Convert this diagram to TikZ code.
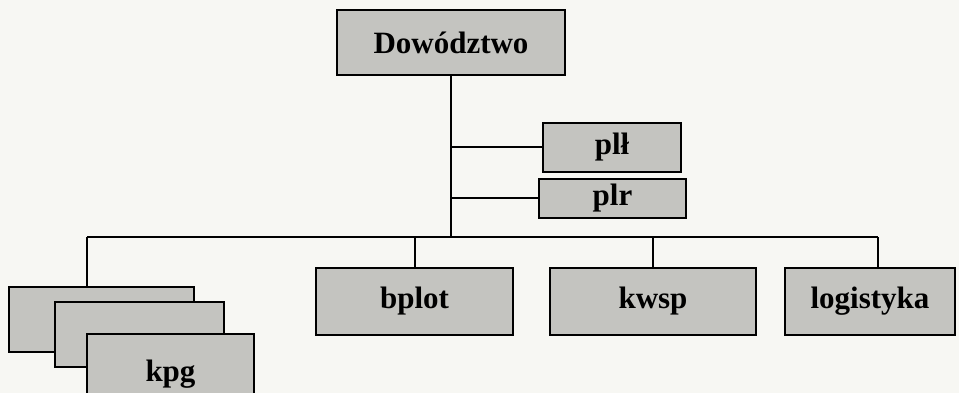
\documentclass[tikz,border=0pt]{standalone}
\usepackage{fontspec}
\setmainfont{Liberation Serif}
\definecolor{boxgray}{RGB}{196,196,192}
\definecolor{paper}{RGB}{247,247,243}

\begin{document}
\begin{tikzpicture}[x=1pt,y=-1pt,line width=2pt,
	unit/.style={draw,fill=boxgray,inner sep=0pt,font=\fontsize{31}{34}\selectfont\bfseries}]
	\clip (0,0) rectangle (959,393);
	\fill[paper] (0,0) rectangle (959,393);
	\node[unit,minimum width=228pt,minimum height=65pt] (dow) at (451,42.5) {Dowództwo};
	\node[unit,minimum width=138pt,minimum height=49pt] (pll) at (612,147.5) {pl\l};
	\node[unit,minimum width=147pt,minimum height=39pt] (plr) at (612.5,198.5) {plr};
	\coordinate (bl) at (87,237);
	\coordinate (br) at (878,237);
	\node[unit,minimum width=185pt,minimum height=65pt] (kpga) at (101.5,319.5) {};
	\node[unit,minimum width=169pt,minimum height=65pt] (kpgb) at (139.5,334.5) {};
	\node[unit,minimum width=167pt,minimum height=80pt] (kpgc) at (170.5,374) {kpg};
	\node[unit,minimum width=197pt,minimum height=67pt] (bplot) at (414.5,301.5) {bplot};
	\node[unit,minimum width=206pt,minimum height=67pt] (kwsp) at (653,301.5) {kwsp};
	\node[unit,minimum width=170pt,minimum height=67pt] (logi) at (870,301.5) {logistyka};
	\draw (dow.south) -- (dow.south |- bl);
	\draw (dow.south |- pll.west) -- (pll.west);
	\draw (dow.south |- plr.west) -- (plr.west);
	\draw (bl) -- (br);
	\draw (bl) -- (bl |- kpga.north);
	\draw (bplot.north |- bl) -- (bplot.north);
	\draw (kwsp.north |- bl) -- (kwsp.north);
	\draw (br) -- (br |- logi.north);
\end{tikzpicture}
\end{document}
